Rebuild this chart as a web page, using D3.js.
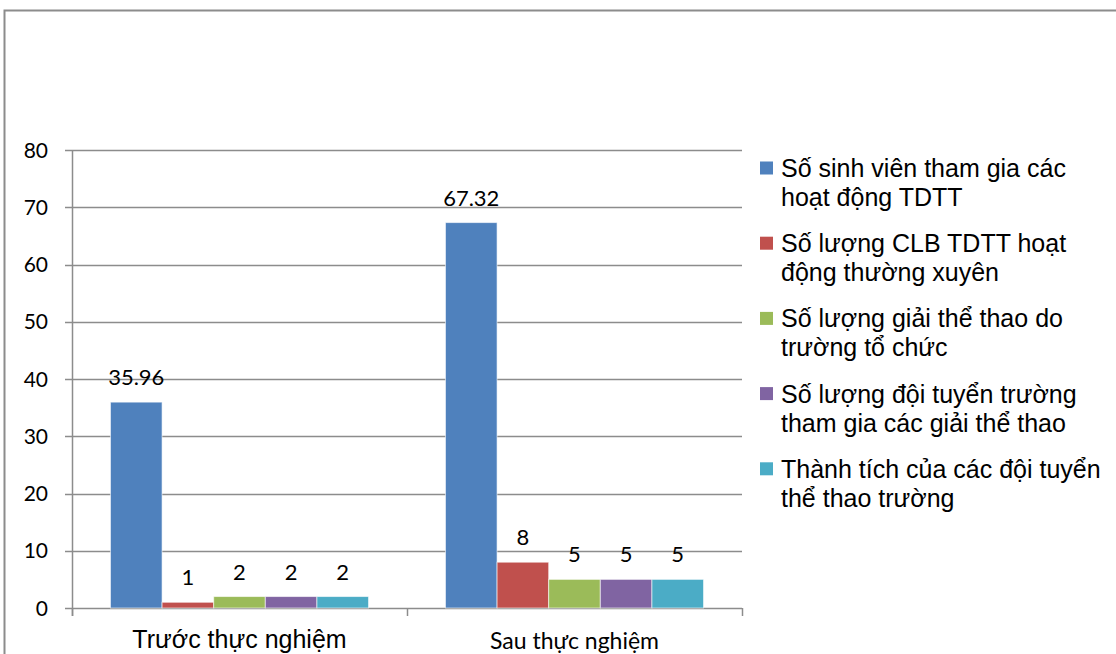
<!DOCTYPE html>
<html>
<head>
<meta charset="utf-8">
<script src="https://cdn.jsdelivr.net/npm/d3@7"></script>
<style>
  html, body { margin: 0; padding: 0; background: #fff; }
  svg { display: block; }
</style>
</head>
<body>
<svg id="chart" width="1116" height="654"></svg>
<script>
// Chart data
const categories = ["Trước thực nghiệm", "Sau thực nghiệm"];
const seriesNames = [
  ["Số sinh viên tham gia các", "hoạt động TDTT"],
  ["Số lượng CLB TDTT hoạt", "động thường xuyên"],
  ["Số lượng giải thể thao do", "trường tổ chức"],
  ["Số lượng đội tuyển trường", "tham gia các giải thể thao"],
  ["Thành tích của các đội tuyển", "thể thao trường"]
];
const seriesColors = ["#4F81BD", "#C0504D", "#9BBB59", "#8064A2", "#4BACC6"];
const valuesBefore = [35.96, 1, 2, 2, 2];
const valuesAfter = [67.32, 8, 5, 5, 5];
const yTicks = [0, 10, 20, 30, 40, 50, 60, 70, 80];

const allValues = [valuesBefore, valuesAfter];
const svg = d3.select("#chart");

// Outer frame
svg.append("path")
  .attr("d", "M4.5,654 L4.5,10.5 L1116,10.5")
  .attr("fill", "none").attr("stroke", "#8c8c8c").attr("stroke-width", 2);

const plot = { left: 72, right: 742, top: 150, bottom: 608 };
const y = d3.scaleLinear().domain([0, 80]).range([plot.bottom, plot.top]);
const x0 = d3.scaleBand().domain(categories).range([plot.left, plot.right]).paddingInner(0).paddingOuter(0);
const x1 = d3.scaleBand().domain(d3.range(seriesNames.length))
  .range([0, x0.bandwidth()]).paddingOuter(0.745).paddingInner(0);

const gridColor = "#8c8c8c";

// Horizontal gridlines with tick stubs
svg.append("g").selectAll("line").data(yTicks).join("line")
  .attr("x1", plot.left - 7).attr("x2", plot.right)
  .attr("y1", d => Math.round(y(d)) + 0.5).attr("y2", d => Math.round(y(d)) + 0.5)
  .attr("stroke", gridColor).attr("stroke-width", 1.5);

// Y axis tick labels
svg.append("g").selectAll("text").data(yTicks).join("text")
  .attr("x", 48).attr("y", d => y(d) + 7.5)
  .attr("text-anchor", "end")
  .attr("font-family", "Lato, 'Open Sans', sans-serif").attr("font-size", 21)
  .attr("fill", "#000").text(d => d);

// Y axis line
svg.append("line")
  .attr("x1", plot.left + 0.5).attr("x2", plot.left + 0.5)
  .attr("y1", plot.top).attr("y2", plot.bottom + 8)
  .attr("stroke", gridColor).attr("stroke-width", 1.5);

// Category ticks
const catEdges = [plot.left, x0(categories[1]), plot.right];
svg.append("g").selectAll("line").data(catEdges).join("line")
  .attr("x1", d => d + 0.5).attr("x2", d => d + 0.5)
  .attr("y1", plot.bottom).attr("y2", plot.bottom + 8)
  .attr("stroke", gridColor).attr("stroke-width", 1.5);

// Bars
const groups = svg.append("g").selectAll("g").data(categories).join("g")
  .attr("transform", d => `translate(${x0(d)},0)`);

groups.selectAll("rect")
  .data((c, i) => allValues[i].map((v, j) => ({ v, j })))
  .join("rect")
  .attr("x", d => x1(d.j))
  .attr("width", x1.bandwidth())
  .attr("y", d => y(d.v))
  .attr("height", d => y(0) - y(d.v))
  .attr("fill", d => seriesColors[d.j])
  .attr("stroke", "rgba(255,255,255,0.6)").attr("stroke-width", 1);

// Value labels
groups.selectAll("text")
  .data((c, i) => allValues[i].map((v, j) => ({ v, j })))
  .join("text")
  .attr("x", d => x1(d.j) + x1.bandwidth() / 2)
  .attr("y", d => y(d.v) - 17)
  .attr("text-anchor", "middle")
  .attr("font-family", "Lato, 'Open Sans', sans-serif").attr("font-size", 22)
  .attr("fill", "#000").text(d => d.v);

// Category labels
svg.append("text")
  .attr("x", x0(categories[0]) + x0.bandwidth() / 2).attr("y", 648)
  .attr("text-anchor", "middle")
  .attr("font-family", "'Liberation Sans', Arial, sans-serif").attr("font-size", 25)
  .attr("fill", "#000").text(categories[0]);
svg.append("text")
  .attr("x", x0(categories[1]) + x0.bandwidth() / 2).attr("y", 649)
  .attr("text-anchor", "middle")
  .attr("font-family", "Lato, 'Open Sans', sans-serif").attr("font-size", 23)
  .attr("fill", "#000").text(categories[1]);

// Legend
const legend = svg.append("g").selectAll("g").data(seriesNames).join("g")
  .attr("transform", (d, i) => `translate(760,${161.5 + i * 75.2})`);
legend.append("rect")
  .attr("x", 0).attr("y", 0).attr("width", 13).attr("height", 13)
  .attr("fill", (d, i) => seriesColors[i]);
legend.each(function(lines) {
  const t = d3.select(this).append("text")
    .attr("font-family", "'Liberation Sans', Arial, sans-serif").attr("font-size", 25)
    .attr("fill", "#000");
  lines.forEach((ln, k) => {
    t.append("tspan").attr("x", 21).attr("y", 15.5 + k * 29).text(ln);
  });
});
</script>
</body>
</html>
